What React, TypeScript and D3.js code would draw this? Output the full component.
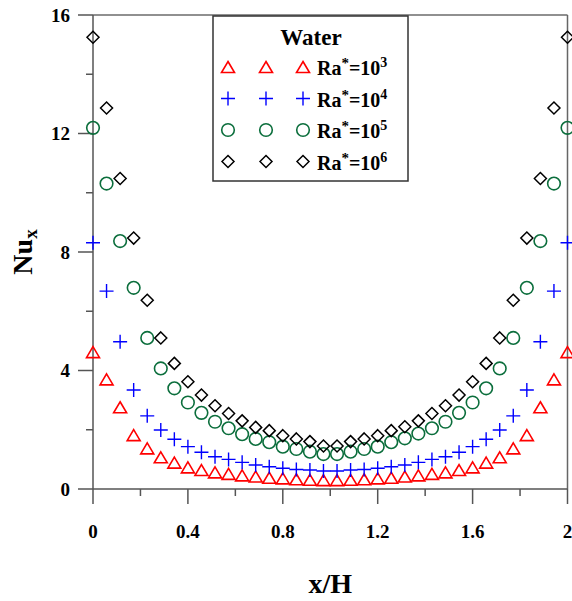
import React from "react";
import * as d3 from "d3";

// x/H positions (36 points across the cavity)
const xPos = [
  0, 0.0571, 0.1143, 0.1714, 0.2286, 0.2857, 0.3429, 0.4, 0.4571, 0.5143, 0.5714, 0.6286,
  0.6857, 0.7429, 0.8, 0.8571, 0.9143, 0.9714, 1.0286, 1.0857, 1.1429, 1.2, 1.2571, 1.3143,
  1.3714, 1.4286, 1.4857, 1.5429, 1.6, 1.6571, 1.7143, 1.7714, 1.8286, 1.8857, 1.9429, 2,
];

const ra3 = [
  4.62, 3.7, 2.76, 1.82, 1.37, 1.07, 0.89, 0.73, 0.64, 0.56, 0.51, 0.46, 0.42, 0.38, 0.36, 0.33,
  0.31, 0.3, 0.3, 0.31, 0.33, 0.36, 0.38, 0.42, 0.46, 0.51, 0.56, 0.64, 0.73, 0.89, 1.07, 1.37,
  1.82, 2.76, 3.7, 4.62,
];
const ra4 = [
  8.31, 6.68, 4.97, 3.34, 2.47, 1.99, 1.68, 1.43, 1.24, 1.09, 1.0, 0.9, 0.81, 0.75, 0.7, 0.66,
  0.64, 0.61, 0.61, 0.64, 0.66, 0.7, 0.75, 0.81, 0.9, 1.0, 1.09, 1.24, 1.43, 1.68, 1.99, 2.47,
  3.34, 4.97, 6.68, 8.31,
];
const ra5 = [
  12.19, 10.31, 8.37, 6.79, 5.1, 4.07, 3.4, 2.92, 2.57, 2.27, 2.05, 1.85, 1.69, 1.58, 1.43, 1.35,
  1.26, 1.18, 1.18, 1.26, 1.35, 1.43, 1.58, 1.71, 1.87, 2.05, 2.27, 2.57, 2.92, 3.4, 4.07, 5.1,
  6.79, 8.37, 10.31, 12.19,
];
const ra6 = [
  15.25, 12.86, 10.48, 8.47, 6.37, 5.1, 4.24, 3.62, 3.17, 2.81, 2.55, 2.3, 2.08, 1.97, 1.8, 1.69,
  1.6, 1.45, 1.45, 1.6, 1.69, 1.8, 1.97, 2.1, 2.3, 2.55, 2.81, 3.17, 3.62, 4.24, 5.1, 6.37, 8.47,
  10.48, 12.86, 15.25,
];

const xTicks = [0, 0.4, 0.8, 1.2, 1.6, 2];
const xMinor = [0.2, 0.6, 1.0, 1.4, 1.8];
const yTicks = [0, 4, 8, 12, 16];
const yMinor = [2, 6, 10, 14];
const legendExp = ["3", "4", "5", "6"];

const series = [
  { values: ra3, shape: "triangle", color: "#ff0000" },
  { values: ra4, shape: "plus", color: "#0000ff" },
  { values: ra5, shape: "circle", color: "#0b6e3c" },
  { values: ra6, shape: "diamond", color: "#000000" },
];

const W = 572;
const H = 601;
const left = 93;
const right = 567.5;
const top = 15;
const bottom = 489;

const font = "'Liberation Serif', 'Times New Roman', serif";

const marker = (shape: string, color: string, cx: number, cy: number, key: string) => {
  if (shape === "triangle") {
    const w = 6.5, h = 5.5;
    return (
      <path key={key} d={`M${cx},${cy - h}L${cx + w},${cy + h}L${cx - w},${cy + h}Z`}
        fill="none" stroke={color} strokeWidth={1.6} />
    );
  }
  if (shape === "plus") {
    const s = 7;
    return (
      <path key={key} d={`M${cx - s},${cy}H${cx + s}M${cx},${cy - s}V${cy + s}`}
        fill="none" stroke={color} strokeWidth={1.4} />
    );
  }
  if (shape === "circle") {
    return <circle key={key} cx={cx} cy={cy} r={6.3} fill="none" stroke={color} strokeWidth={1.6} />;
  }
  const s = 6;
  return (
    <path key={key} d={`M${cx},${cy - s}L${cx + s},${cy}L${cx},${cy + s}L${cx - s},${cy}Z`}
      fill="none" stroke={color} strokeWidth={1.5} />
  );
};

const App = () => {
  const x = d3.scaleLinear().domain([0, 2]).range([left, right]);
  const y = d3.scaleLinear().domain([0, 16]).range([bottom, top]);
  const axisColor = "#555";

  const legendX = 213, legendY = 16, legendW = 195, legendH = 165;
  const rowY = [75, 106.5, 138, 169.5];
  const markX = [228, 266, 303];

  return (
    <svg width={W} height={H} style={{ position: "absolute", left: 0, top: 0 }} fontFamily={font}>
      <rect x={0} y={0} width={W} height={H} fill="#fff" />
      {/* frame */}
      <line x1={left} x2={right} y1={top} y2={top} stroke="#222" strokeWidth={1.2} />
      <line x1={right} x2={right} y1={top} y2={bottom} stroke="#666" strokeWidth={1.5} />
      <line x1={left} x2={right} y1={bottom} y2={bottom} stroke={axisColor} strokeWidth={1.5} />
      <line x1={left} x2={left} y1={top} y2={bottom} stroke={axisColor} strokeWidth={1.5} />

      {/* x ticks */}
      {xTicks.map((t) => (
        <g key={"xt" + t}>
          <line x1={x(t)} x2={x(t)} y1={bottom} y2={bottom + 15} stroke={axisColor} strokeWidth={1.5} />
          <text x={x(t)} y={538} textAnchor="middle" fontSize={19} fontWeight="bold">{t}</text>
        </g>
      ))}
      {xMinor.map((t) => (
        <line key={"xm" + t} x1={x(t)} x2={x(t)} y1={bottom} y2={bottom + 7} stroke={axisColor} strokeWidth={1.5} />
      ))}

      {/* y ticks */}
      {yTicks.map((t) => (
        <g key={"yt" + t}>
          <line x1={left - 15} x2={left} y1={y(t)} y2={y(t)} stroke={axisColor} strokeWidth={1.5} />
          <text x={70} y={y(t) + 6.5} textAnchor="end" fontSize={19} fontWeight="bold">{t}</text>
        </g>
      ))}
      {yMinor.map((t) => (
        <line key={"ym" + t} x1={left - 7} x2={left} y1={y(t)} y2={y(t)} stroke={axisColor} strokeWidth={1.5} />
      ))}

      {/* data */}
      {series.map((s, si) =>
        s.values.map((v, i) => marker(s.shape, s.color, x(xPos[i]), y(v), `p${si}-${i}`))
      )}

      {/* legend */}
      <rect x={legendX} y={legendY} width={legendW} height={legendH} fill="#fff" stroke="#333" strokeWidth={1.5} />
      <text x={311} y={45} textAnchor="middle" fontSize={23} fontWeight="bold">Water</text>
      {series.map((s, si) => (
        <g key={"lg" + si}>
          {markX.map((mx, k) => marker(s.shape, s.color, mx, rowY[si] - 8, `lm${si}-${k}`))}
          <text x={317} y={rowY[si]} fontSize={20} fontWeight="bold">
            Ra<tspan dy={-7} fontSize={15}>*</tspan>
            <tspan dy={7}>=10</tspan>
            <tspan dy={-8} fontSize={14}>{legendExp[si]}</tspan>
          </text>
        </g>
      ))}

      {/* axis titles */}
      <text x={(left + right) / 2} y={593} textAnchor="middle" fontSize={28} fontWeight="bold">x/H</text>
      <text transform={`translate(32,${(top + bottom) / 2}) rotate(-90)`} textAnchor="middle" fontSize={28} fontWeight="bold">
        Nu<tspan dy={5} fontSize={19}>x</tspan>
      </text>
    </svg>
  );
};

export default App;
